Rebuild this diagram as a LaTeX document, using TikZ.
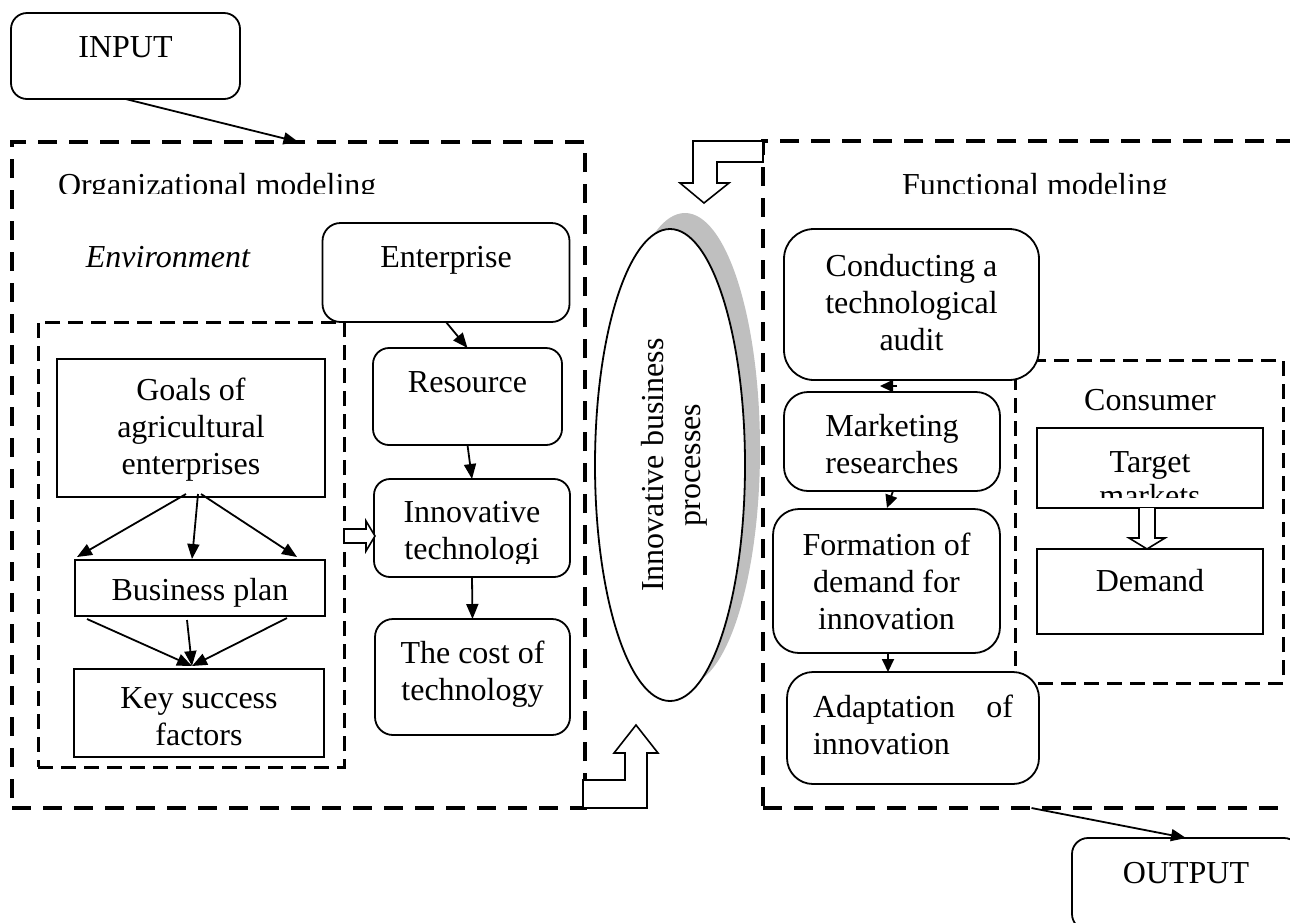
\documentclass[tikz,border=0pt]{standalone}
\usepackage{fontspec}
\setmainfont{Liberation Serif}
\usetikzlibrary{arrows.meta,shapes.geometric}
\newcommand\ctrlines[1]{\vtop{\halign{\hfil##\hfil\cr#1\crcr}}}
\begin{document}
\begin{tikzpicture}[x=1pt,y=-1pt,
  every node/.style={font=\fontsize{32}{37}\selectfont},
  txt/.style={anchor=base,inner sep=0pt,outer sep=0pt},
  rbox/.style={draw,line width=1.8pt,fill=white,rounded corners=#1,inner sep=0pt,outer sep=0pt},
  sbox/.style={draw,line width=1.8pt,fill=white,inner sep=0pt,outer sep=0pt},
  bigframe/.style={draw,line width=4pt,dash pattern=on 19pt off 12pt,inner sep=0pt,outer sep=0pt},
  smallframe/.style={draw,line width=3pt,dash pattern=on 15pt off 8pt,inner sep=0pt,outer sep=0pt},
  arr/.style={line width=1.8pt,-{Triangle[length=15pt,width=12pt]}},
  arrsmall/.style={line width=1.8pt,-{Triangle[length=13pt,width=12pt]}},
  hollow/.style={draw,line width=1.6pt,fill=white,line join=miter},
  sz/.style 2 args={minimum width=#1pt,minimum height=#2pt},
]
\useasboundingbox (0,0) rectangle (1290,922);
\clip (0,0) rectangle (1290,922);

% shadow of the ellipse
\node[ellipse,fill=gray!50,sz={150}{472},inner sep=0pt] (ibpshadow) at (685,449) {};

% dashed frames
\node[bigframe,sz={573}{666}] (org) at (298.5,475) {};
\node[bigframe,sz={537}{667}] (func) at (1031.5,474.5) {};
\node[smallframe,sz={306}{445}] (env) at (191,544.5) {};
\node[smallframe,sz={268}{323}] (cons) at (1149,521.5) {};

% boxes
\node[rbox=16pt,sz={229}{86}] (input) at (125.5,56) {};
\node[rbox=16pt,sz={228}{92}] (output) at (1186,884) {};
\node[rbox=18pt,sz={247}{99}] (ent) at (446,272.5) {};
\node[rbox=16pt,sz={189}{97}] (res) at (467.5,396.5) {};
\node[rbox=16pt,sz={196}{98}] (innov) at (472,528) {};
\node[rbox=18pt,sz={195}{116}] (cost) at (472.5,677) {};
\node[sbox,sz={268}{138}] (goals) at (191,428) {};
\node[sbox,sz={250}{56}] (bp) at (200,588) {};
\node[sbox,sz={250}{88}] (key) at (199,713) {};
\node[rbox=30pt,sz={255}{151}] (cond) at (911.5,304.5) {};
\node[rbox=24pt,sz={216}{99}] (mk) at (892,441.5) {};
\node[rbox=26pt,sz={227}{144}] (form) at (886.5,581) {};
\node[rbox=26pt,sz={252}{112}] (adapt) at (913,728) {};
\node[sbox,sz={226}{80}] (tgt) at (1150,468) {};
\node[sbox,sz={226}{85}] (dem) at (1150,591.5) {};

% ellipse
\node[ellipse,draw,line width=1.8pt,fill=white,sz={150}{472},inner sep=0pt] (ibp) at (670,465) {};
\node[rotate=90,inner sep=0pt,align=center] (ibptext) at (674,465) {Innovative business\\processes};

% arrows
\draw[arr] (input.south) -- (org.north);
\draw[arr] (func.south) -- (output.north);
\draw[arr] (ent.south) -- (res.north);
\draw[arr] (res.south) -- (innov.north);
\draw[arr] (innov.south) -- (cost.north);

\coordinate (g1) at (186,494); \coordinate (g2) at (198,494); \coordinate (g3) at (201,494);
\coordinate (b1) at (77,557); \coordinate (b2) at (192,559); \coordinate (b3) at (297,557);
\draw[arr] (g1) -- (b1);
\draw[arr] (g2) -- (b2);
\draw[arr] (g3) -- (b3);

\coordinate (p1) at (87,619); \coordinate (p2) at (187,620); \coordinate (p3) at (287,618);
\coordinate (k0) at (192,666);
\draw[arr] (p1) -- (k0);
\draw[arr] (p2) -- (k0);
\draw[arr] (p3) -- (k0);

\coordinate (c1) at (897,386); \coordinate (c1e) at (880,386);
\draw[arrsmall] (c1) -- (c1e);
\coordinate (c2) at (893,491); \coordinate (c2e) at (887,508);
\draw[arrsmall] (c2) -- (c2e);
\coordinate (c3) at (888,653); \coordinate (c3e) at (888,672);
\draw[arrsmall] (c3) -- (c3e);

% hollow arrows
\draw[hollow] (763,141) -- (693,141) -- (693,183) -- (680,183) -- (704,203) -- (729,183) -- (717,183) -- (717,162) -- (763,162) -- cycle;
\draw[hollow] (583,780) -- (625,780) -- (625,753) -- (614,753) -- (636,725) -- (658,753) -- (647,753) -- (647,808) -- (583,808) -- cycle;
\draw[hollow] (344,529) -- (366,529) -- (366,521) -- (375,536) -- (366,551) -- (366,543) -- (344,543) -- cycle;
\draw[hollow] (1139,508) -- (1139,538) -- (1129,538) -- (1147,549) -- (1165,538) -- (1155,538) -- (1155,508);

% texts
\node[txt] (inputt) at (125.5,57) {INPUT};
\node[txt] (outputt) at (1186,883) {OUTPUT};
\begin{scope}
\clip (40,150) rectangle (560,193);
\node[txt,anchor=base west] (orgt) at (58,195) {Organizational modeling};
\end{scope}
\begin{scope}
\clip (780,150) rectangle (1290,193);
\node[txt] (funct) at (1035,195) {Functional modeling};
\end{scope}
\node[txt] (envt) at (168,267) {\itshape Environment};
\node[txt] (entt) at (446,267) {Enterprise};
\node[txt] (rest) at (467.5,392) {Resource};
\begin{scope}
\clip (376,481) rectangle (568,563);
\node[txt] (innovt) at (472,522) {\ctrlines{Innovative\cr technologi}};
\end{scope}
\node[txt] (costt) at (472.5,663) {\ctrlines{The cost of\cr technology}};
\node[txt] (goalst) at (191,400) {\ctrlines{Goals of\cr agricultural\cr enterprises}};
\node[txt] (bpt) at (200,600) {Business plan};
\node[txt] (keyt) at (199,708) {\ctrlines{Key success\cr factors}};
\node[txt] (condt) at (911.5,276) {\ctrlines{Conducting a\cr technological\cr audit}};
\node[txt] (mkt) at (892,436) {\ctrlines{Marketing\cr researches}};
\node[txt] (formt) at (886.5,555) {\ctrlines{Formation of\cr demand for\cr innovation}};
\node[txt,anchor=base west] (adaptt) at (813,717) {\vtop{\hbox to 200pt{Adaptation\hfill of}\hbox{innovation}}};
\node[txt] (const) at (1150,410) {Consumer};
\begin{scope}
\clip (1039,430) rectangle (1261,497);
\node[txt] (tgtt) at (1150,472) {Target};
\node[txt] (tgtt2) at (1150,506) {markets};
\end{scope}
\node[txt] (demt) at (1150,591) {Demand};
\end{tikzpicture}
\end{document}
